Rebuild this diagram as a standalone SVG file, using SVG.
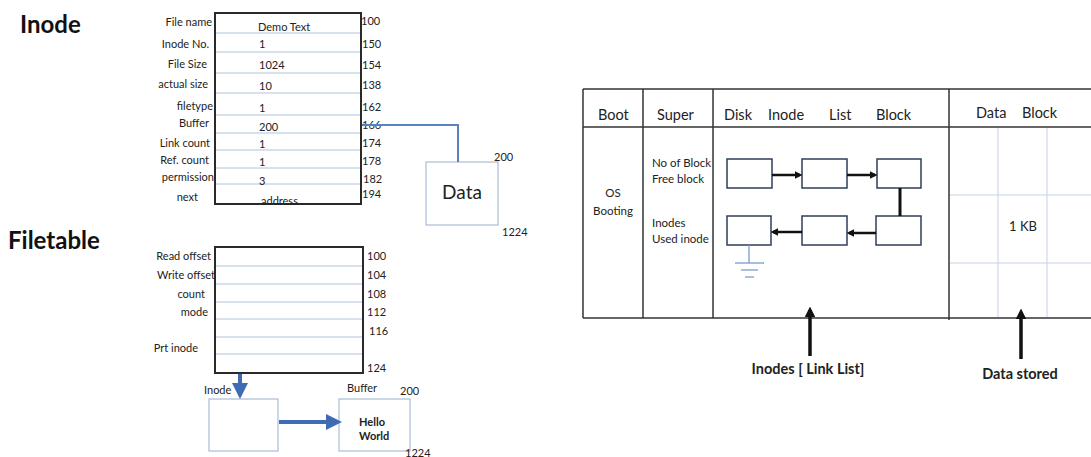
<svg xmlns="http://www.w3.org/2000/svg" width="1091" height="457" viewBox="0 0 1091 457">
<style>
text{font-family:Lato,"Liberation Sans",sans-serif;fill:#222}
.t{font-size:24px;font-weight:bold;fill:#111}
.s{font-size:11px}
.l{font-size:11px;text-anchor:end}
.h{font-size:14.5px}
.m{font-size:11.5px}
.b{font-size:14.5px;font-weight:bold}
.box{fill:#fff;stroke:#2a2a2a;stroke-width:2}
.row{stroke:#b0c4de;stroke-width:1}
.lbox{fill:#fff;stroke:#a9bcd8;stroke-width:1.2}
.nb{fill:#fff;stroke:#2c3e5a;stroke-width:1.5}
.grid{stroke:#c5d3e6;stroke-width:1}
.tl{stroke:#333;stroke-width:1.5;fill:none}
</style>
<defs>
<marker id="bh" markerWidth="4" markerHeight="4" refX="3" refY="2" orient="auto" markerUnits="strokeWidth"><path d="M0,0L4,2L0,4z" fill="#3f6bb5"/></marker>
<marker id="kh" markerWidth="3" markerHeight="3" refX="2" refY="1.5" orient="auto" markerUnits="strokeWidth"><path d="M0,0L3,1.5L0,3z" fill="#111"/></marker>
</defs>

<text class="t" x="20" y="33">Inode</text>
<text class="t" x="8" y="249">Filetable</text>

<g id="inode-table">
<rect class="box" x="215" y="13" width="146" height="191"/>
<line class="row" x1="216" y1="33" x2="360" y2="33"/>
<line class="row" x1="216" y1="52" x2="360" y2="52"/>
<line class="row" x1="216" y1="73" x2="360" y2="73"/>
<line class="row" x1="216" y1="93" x2="360" y2="93"/>
<line class="row" x1="216" y1="115" x2="360" y2="115"/>
<line class="row" x1="216" y1="133" x2="360" y2="133"/>
<line class="row" x1="216" y1="150" x2="360" y2="150"/>
<line class="row" x1="216" y1="168" x2="360" y2="168"/>
<line class="row" x1="216" y1="184" x2="360" y2="184"/>
<text class="l" x="212" y="26">File name</text>
<text class="l" x="209" y="48">Inode No.</text>
<text class="l" x="207" y="68">File Size</text>
<text class="l" x="208" y="88">actual size</text>
<text class="l" x="213" y="110">filetype</text>
<text class="l" x="209" y="127">Buffer</text>
<text class="l" x="210" y="147">Link count</text>
<text class="l" x="209" y="164">Ref. count</text>
<text class="l" x="214" y="181">permission</text>
<text class="l" x="198" y="201">next</text>
<text class="s" x="258" y="31">Demo Text</text>
<text class="s" x="259" y="48">1</text>
<text class="s" x="259" y="69">1024</text>
<text class="s" x="259" y="90">10</text>
<text class="s" x="259" y="112">1</text>
<text class="s" x="259" y="131">200</text>
<text class="s" x="259" y="148">1</text>
<text class="s" x="259" y="166">1</text>
<text class="s" x="259" y="185">3</text>
<text class="s" x="261" y="205">address</text>
<text class="s" x="361" y="25">100</text>
<text class="s" x="362" y="48">150</text>
<text class="s" x="362" y="69">154</text>
<text class="s" x="362" y="89">138</text>
<text class="s" x="362" y="111">162</text>
<text class="s" x="362" y="129">166</text>
<text class="s" x="362" y="147">174</text>
<text class="s" x="362" y="165">178</text>
<text class="s" x="363" y="183">182</text>
<text class="s" x="362" y="198">194</text>
</g>

<g id="data-node">
<rect class="lbox" x="426" y="162" width="72" height="63"/>
<text x="462" y="199" style="font-size:19px;text-anchor:middle">Data</text>
<text class="s" x="494" y="161">200</text>
<text class="s" x="502" y="236">1224</text>
</g>

<g id="filetable">
<rect class="box" x="215" y="247" width="148" height="126"/>
<line class="row" x1="216" y1="266" x2="362" y2="266"/>
<line class="row" x1="216" y1="284" x2="362" y2="284"/>
<line class="row" x1="216" y1="302" x2="362" y2="302"/>
<line class="row" x1="216" y1="319" x2="362" y2="319"/>
<line class="row" x1="216" y1="337" x2="362" y2="337"/>
<line class="row" x1="216" y1="354" x2="362" y2="354"/>
<text class="l" x="211" y="260">Read offset</text>
<text class="l" x="215" y="279">Write offset</text>
<text class="l" x="205" y="298">count</text>
<text class="l" x="208" y="316">mode</text>
<text class="l" x="198" y="352">Prt inode</text>
<text class="s" x="367" y="260">100</text>
<text class="s" x="367" y="279">104</text>
<text class="s" x="367" y="298">108</text>
<text class="s" x="367" y="316">112</text>
<text class="s" x="369" y="335">116</text>
<text class="s" x="367" y="372">124</text>
</g>

<g id="inode-node">
<rect class="lbox" x="209" y="399" width="69" height="52"/>
<text class="s" x="204" y="394">Inode</text>
</g>

<g id="buffer-node">
<rect class="lbox" x="339" y="399" width="71" height="52"/>
<text class="s" x="347" y="392">Buffer</text>
<text class="s" x="400" y="395">200</text>
<text x="359" y="426" style="font-size:11px;font-weight:bold">Hello</text>
<text x="359" y="440" style="font-size:11px;font-weight:bold">World</text>
<text class="s" x="405" y="457">1224</text>
</g>

<g id="disk-table">
<line class="tl" x1="583" y1="89" x2="1091" y2="89"/>
<line class="tl" x1="583" y1="127" x2="1091" y2="127"/>
<line class="tl" x1="583" y1="318" x2="1091" y2="318"/>
<line class="tl" x1="583" y1="89" x2="583" y2="318"/>
<line class="tl" x1="643" y1="89" x2="643" y2="318"/>
<line class="tl" x1="713" y1="89" x2="713" y2="318"/>
<line class="tl" x1="949" y1="89" x2="949" y2="320"/>
<line class="grid" x1="998" y1="128" x2="998" y2="317"/>
<line class="grid" x1="1047" y1="128" x2="1047" y2="317"/>
<line class="grid" x1="950" y1="195" x2="1091" y2="195"/>
<line class="grid" x1="950" y1="263" x2="1091" y2="263"/>
<text class="h" x="598" y="120">Boot</text>
<text class="h" x="657" y="120">Super</text>
<text class="h" x="724" y="120">Disk</text>
<text class="h" x="768" y="120">Inode</text>
<text class="h" x="829" y="120">List</text>
<text class="h" x="876" y="120">Block</text>
<text class="h" x="976" y="118">Data</text>
<text class="h" x="1022" y="118">Block</text>
<text class="m" x="613" y="197" text-anchor="middle">OS</text>
<text class="m" x="613" y="215" text-anchor="middle">Booting</text>
<text class="m" x="652" y="167">No of Block</text>
<text class="m" x="652" y="183">Free block</text>
<text class="m" x="652" y="227">Inodes</text>
<text class="m" x="652" y="243">Used inode</text>
<text x="1023" y="231" style="font-size:13px;text-anchor:middle">1 KB</text>
</g>

<g id="ll1"><rect class="nb" x="727" y="159" width="45" height="29"/></g>
<g id="ll2"><rect class="nb" x="802" y="159" width="45" height="29"/></g>
<g id="ll3"><rect class="nb" x="877" y="159" width="44" height="29"/></g>
<g id="ll4"><rect class="nb" x="727" y="216" width="44" height="29"/></g>
<g id="ll5"><rect class="nb" x="802" y="216" width="45" height="29"/></g>
<g id="ll6"><rect class="nb" x="876" y="216" width="45" height="29"/></g>

<g id="ground" stroke="#7b9ccc" stroke-width="1.3">
<line x1="749" y1="245" x2="749" y2="263"/>
<line x1="735" y1="263" x2="764" y2="263"/>
<line x1="741" y1="270" x2="758" y2="270"/>
<line x1="745" y1="277" x2="754" y2="277"/>
</g>

<g id="connectors" fill="none">
<polyline points="362,125 458,125 458,162" stroke="#5a82bd" stroke-width="2"/>
<line x1="240" y1="374" x2="240" y2="395" stroke="#3f6bb5" stroke-width="4" marker-end="url(#bh)"/>
<line x1="279" y1="422" x2="338" y2="422" stroke="#3f6bb5" stroke-width="4" marker-end="url(#bh)"/>
<line x1="772" y1="175" x2="800" y2="175" stroke="#111" stroke-width="2.5" marker-end="url(#kh)"/>
<line x1="847" y1="175" x2="875" y2="175" stroke="#111" stroke-width="2.5" marker-end="url(#kh)"/>
<line x1="900" y1="188" x2="900" y2="216" stroke="#111" stroke-width="3"/>
<line x1="876" y1="233" x2="849" y2="233" stroke="#111" stroke-width="2.5" marker-end="url(#kh)"/>
<line x1="802" y1="232" x2="773" y2="232" stroke="#111" stroke-width="2.5" marker-end="url(#kh)"/>
<line x1="810" y1="356" x2="810" y2="310" stroke="#111" stroke-width="3.5" marker-end="url(#kh)"/>
<line x1="1021" y1="359" x2="1021" y2="312" stroke="#111" stroke-width="3.5" marker-end="url(#kh)"/>
</g>

<text class="b" x="808" y="374" text-anchor="middle">Inodes [ Link List]</text>
<text class="b" x="1020" y="379" text-anchor="middle">Data stored</text>
</svg>
